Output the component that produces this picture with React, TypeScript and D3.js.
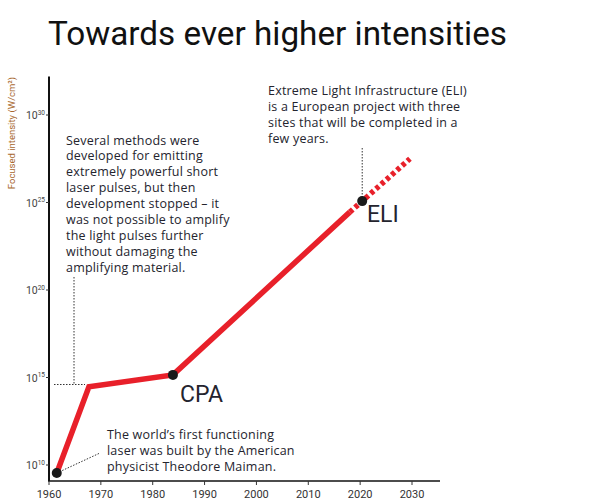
import React from "react";
import * as d3 from "d3";

const xTickYears = [1960, 1970, 1980, 1990, 2000, 2010, 2020, 2030];
const yTickExponents = [10, 15, 20, 25, 30];

const solidYears = [1961.5, 1967.7, 1983.9, 2018];
const solidLogIntensity = [9.54, 14.47, 15.15, 24.45];
const dashedYears = [2018, 2029.6];
const dashedLogIntensity = [24.45, 27.5];
const dotYears = [1961.5, 1983.9, 2020.4];
const dotLogIntensity = [9.54, 15.15, 25.08];

const title = "Towards ever higher intensities";
const yAxisLabel = "Focused intensity (W/cm²)";
const noteStopped = [
  "Several methods were",
  "developed for emitting",
  "extremely powerful short",
  "laser pulses, but then",
  "development stopped – it",
  "was not possible to amplify",
  "the light pulses further",
  "without damaging the",
  "amplifying material.",
];
const noteEli = [
  "Extreme Light Infrastructure (ELI)",
  "is a European project with three",
  "sites that will be completed in a",
  "few years.",
];
const noteMaiman = [
  "The world’s first functioning",
  "laser was built by the American",
  "physicist Theodore Maiman.",
];

const FONT = "Roboto, 'Open Sans', sans-serif";
const NOTE_FONT = "'Open Sans', Roboto, sans-serif";
const TXT = "#24242e";

export default function App() {
  const W = 594, H = 504;
  const x = d3.scaleLinear().domain([1960, 2030]).range([49, 412]);
  const y = d3.scaleLinear().domain([10, 30]).range([465, 115]);
  const yTop = y(32.2);
  const yBottom = 481;
  const xRight = 440;

  const solid = solidYears.map((yr, i) => [yr, solidLogIntensity[i]] as [number, number]);
  const dashed = dashedYears.map((yr, i) => [yr, dashedLogIntensity[i]] as [number, number]);
  const line = d3.line<[number, number]>().x(d => x(d[0])).y(d => y(d[1]));

  const stopY = y(14.6);

  return (
    <svg width={W} height={H} style={{ position: "absolute", left: 0, top: 0, background: "#fff" }} fontFamily={FONT}>
      <text x={48} y={45} fontSize={33} fill="#111" textLength={459} lengthAdjust="spacingAndGlyphs">{title}</text>

      <text transform={`translate(15,133) rotate(-90)`} textAnchor="middle" fontSize={9.5} fill="#a8682e">{yAxisLabel}</text>

      {/* axes */}
      <line x1={49} x2={49} y1={yTop} y2={yBottom} stroke="#111" strokeWidth={2} />
      <line x1={48} x2={xRight} y1={yBottom} y2={yBottom} stroke="#111" strokeWidth={1.5} />

      {yTickExponents.map(e => (
        <g key={e}>
          <line x1={46} x2={49} y1={y(e)} y2={y(e)} stroke="#333" strokeWidth={1} />
          <text x={45} y={y(e) + 4} textAnchor="end" fontSize={10.5} fill="#444">
            10<tspan fontSize={6.5} dy={-4.5}>{e}</tspan>
          </text>
        </g>
      ))}

      {xTickYears.map(yr => (
        <g key={yr}>
          <line x1={x(yr)} x2={x(yr)} y1={yBottom} y2={yBottom + 4} stroke="#333" strokeWidth={1} />
          <text x={x(yr)} y={yBottom + 17} textAnchor="middle" fontSize={11} fill="#333">{yr}</text>
        </g>
      ))}

      {/* annotation leaders */}
      <line x1={74} x2={74} y1={277} y2={stopY} stroke="#333" strokeWidth={1} strokeDasharray="1.5,1.5" />
      <line x1={54} x2={85} y1={stopY} y2={stopY} stroke="#333" strokeWidth={1} strokeDasharray="1.5,1.5" />
      <line x1={x(2020.4)} x2={x(2020.4)} y1={148} y2={y(25.08)} stroke="#333" strokeWidth={1} strokeDasharray="1.5,1.5" />
      <line x1={x(1961.5)} x2={100} y1={y(9.54)} y2={453} stroke="#333" strokeWidth={1} strokeDasharray="1.5,1.5" />

      {/* series */}
      <path d={line(solid) || ""} fill="none" stroke="#e8202a" strokeWidth={5.5} strokeLinejoin="miter" />
      <path d={line(dashed) || ""} fill="none" stroke="#e8202a" strokeWidth={5.5} strokeDasharray="4,3" />
      {dotYears.map((yr, i) => (
        <circle key={yr} cx={x(yr)} cy={y(dotLogIntensity[i])} r={5} fill="#1a1a1a" />
      ))}

      {/* labels */}
      <text x={180} y={402} fontSize={23} fill={TXT}>CPA</text>
      <text x={367} y={222} fontSize={23} fill={TXT}>ELI</text>

      <g fontFamily={NOTE_FONT} fontSize={12.5} letterSpacing={0.2} fill={TXT}>
        <text>
          {noteStopped.map((s, i) => (
            <tspan key={i} x={66} y={144.5 + i * 15.9}>{s}</tspan>
          ))}
        </text>
        <text>
          {noteEli.map((s, i) => (
            <tspan key={i} x={268} y={95 + i * 15.9}>{s}</tspan>
          ))}
        </text>
        <text>
          {noteMaiman.map((s, i) => (
            <tspan key={i} x={107} y={438.5 + i * 16}>{s}</tspan>
          ))}
        </text>
      </g>
    </svg>
  );
}
